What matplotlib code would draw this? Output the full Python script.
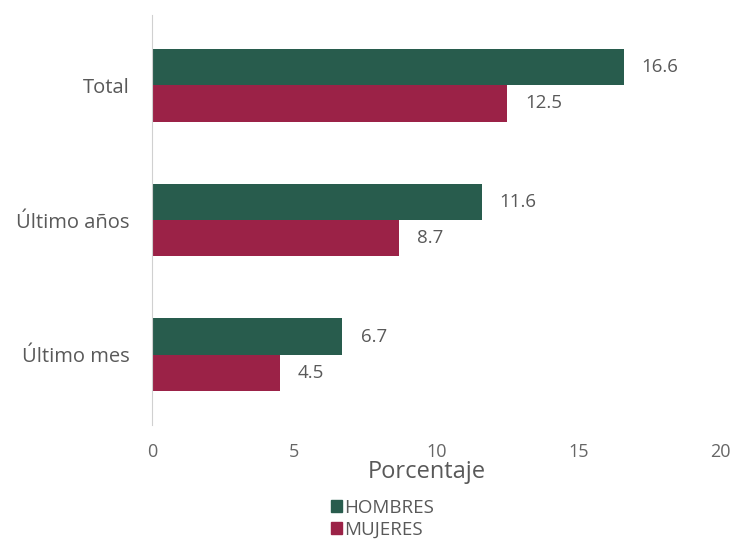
import matplotlib.pyplot as plt
import numpy as np
from matplotlib.patches import Patch

plt.rcParams['font.family'] = ['Open Sans', 'DejaVu Sans']

categorias = ['Total', 'Último años', 'Último mes']
hombres = [16.6, 11.6, 6.7]
mujeres = [12.5, 8.7, 4.5]

verde = '#285C4D'
guinda = '#9B2247'
gris = '#595959'

fig = plt.figure(figsize=(7.35, 5.42), dpi=100)
ax = fig.add_axes([0.207, 0.216, 0.773, 0.756])

y = np.arange(len(categorias))
h = 0.27
ax.barh(y - h / 2, hombres, height=h, color=verde)
ax.barh(y + h / 2, mujeres, height=h, color=guinda)

for yi, v in zip(y, hombres):
    ax.annotate(f'{v}', (v, yi - h / 2), xytext=(13, 0), textcoords='offset points',
                va='center', ha='left', fontsize=13.5, color=gris)
for yi, v in zip(y, mujeres):
    ax.annotate(f'{v}', (v, yi + h / 2), xytext=(13, 0), textcoords='offset points',
                va='center', ha='left', fontsize=13.5, color=gris)

ax.set_xlim(0, 20)
ax.set_ylim(2.52, -0.52)
ax.set_yticks(y)
ax.set_yticklabels(categorias, fontsize=14.5, color=gris)
ax.set_xticks([0, 5, 10, 15, 20])
ax.tick_params(axis='x', length=0, pad=13, labelsize=13, labelcolor='#666666')
ax.tick_params(axis='y', length=0, pad=16)
ax.set_xlabel('Porcentaje', fontsize=17, color=gris)
ax.xaxis.set_label_coords(0.483, -0.085)

for s in ['top', 'right', 'bottom']:
    ax.spines[s].set_visible(False)
ax.spines['left'].set_color('#d0d0d0')

handles = [Patch(color=verde, label='HOMBRES'), Patch(color=guinda, label='MUJERES')]
leg = fig.legend(handles=handles, loc='upper left', bbox_to_anchor=(0.438, 0.097),
                 frameon=False, fontsize=13.5, handlelength=0.55, handleheight=0.6,
                 handletextpad=0.12, labelspacing=0.2, borderpad=0)
for t in leg.get_texts():
    t.set_color(gris)

fig.savefig('out.png', dpi=100)
